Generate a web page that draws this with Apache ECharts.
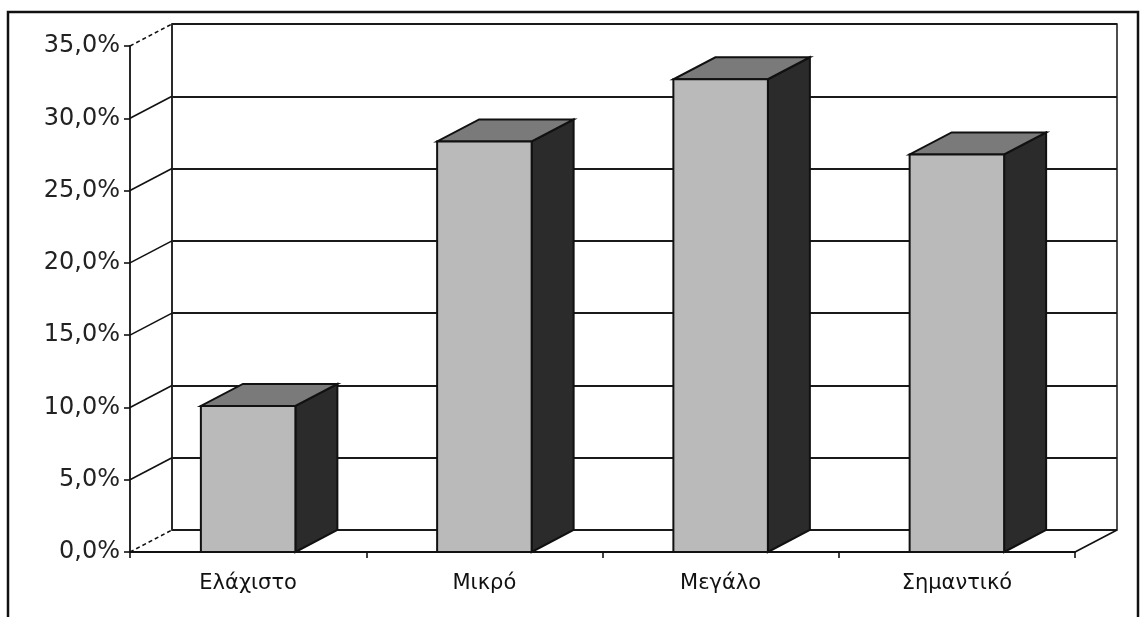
<!DOCTYPE html>
<html style="height: 100%">
<head>
<meta charset="utf-8">
<script src="https://cdn.jsdelivr.net/npm/echarts@6/dist/echarts.min.js"></script>
</head>
<body style="height: 100%; margin: 0; background: #fff">
<div id="container" style="width: 1147px; height: 617px"></div>
<script>
// data
var categories = ['Ελάχιστο', 'Μικρό', 'Μεγάλο', 'Σημαντικό'];
var shares = [10.1, 28.4, 32.7, 27.5];
var tickValues = [0, 5, 10, 15, 20, 25, 30, 35];

// 3d depth of the box (pixels)
var DX = 42, DY = 22;

function pct(v) {
    return v.toFixed(1).replace('.', ',') + '%';
}

var dom = document.getElementById('container');
var myChart = echarts.init(dom);

var option = {
    animation: false,
    backgroundColor: '#fff',
    textStyle: { fontFamily: 'DejaVu Sans, Arial, sans-serif' },
    graphic: [{
        type: 'rect',
        shape: { x: 8, y: 12, width: 1130, height: 640 },
        style: { fill: 'none', stroke: '#111', lineWidth: 2.5 },
        z: 0
    }],
    grid: [
        // back wall
        { left: 172, right: 30, top: 24, bottom: 87, show: true,
          backgroundColor: '#fff', borderColor: '#222', borderWidth: 1.6 },
        // front plane
        { left: 130, right: 72, top: 46, bottom: 65 }
    ],
    xAxis: [
        { gridIndex: 0, type: 'category', data: categories, show: false },
        { gridIndex: 1, type: 'category', data: categories,
          axisLine: { lineStyle: { color: '#111', width: 1.8 } },
          axisTick: { show: true, length: 6, lineStyle: { color: '#111', width: 1.6 } },
          axisLabel: { color: '#111', fontSize: 21, margin: 21,
                       fontFamily: 'DejaVu Sans' },
          splitLine: { show: false } }
    ],
    yAxis: [
        { gridIndex: 0, type: 'value', min: 0, max: 35, interval: 5,
          axisLine: { show: true, lineStyle: { color: '#222', width: 1.6 } },
          axisTick: { show: false }, axisLabel: { show: false },
          splitLine: { show: true, lineStyle: { color: '#1a1a1a', width: 1.8 } } },
        { gridIndex: 1, type: 'value', min: 0, max: 35, interval: 5,
          axisLine: { show: true, lineStyle: { color: '#111', width: 1.8 } },
          axisTick: { show: true, inside: false, length: 6, lineStyle: { color: '#111', width: 1.6 } },
          axisLabel: { color: '#222', fontSize: 24, margin: 10, formatter: pct,
                       fontFamily: 'DejaVu Sans' },
          splitLine: { show: false } }
    ],
    series: [
        // left side wall + right floor edge
        {
            type: 'custom',
            xAxisIndex: 1, yAxisIndex: 1,
            data: tickValues.map(function (v) { return [0, v]; }),
            silent: true,
            z: 3,
            renderItem: function (params, api) {
                var cs = params.coordSys;
                var v = api.value(1);
                var y = api.coord([0, v])[1];
                var children = [{
                    type: 'line',
                    shape: { x1: cs.x, y1: y, x2: cs.x + DX, y2: y - DY },
                    style: { stroke: '#111', lineWidth: 1.6,
                             lineDash: (v === 0 || v === 35) ? [4, 3] : null }
                }];
                if (v === 0) {
                    children.push({
                        type: 'line',
                        shape: { x1: cs.x + cs.width, y1: y, x2: cs.x + cs.width + DX, y2: y - DY },
                        style: { stroke: '#111', lineWidth: 1.6 }
                    });
                }
                return { type: 'group', children: children };
            }
        },
        // 3d columns
        {
            type: 'custom',
            xAxisIndex: 1, yAxisIndex: 1,
            data: shares.map(function (v, i) { return [i, v]; }),
            z: 5,
            renderItem: function (params, api) {
                var top = api.coord([api.value(0), api.value(1)]);
                var base = api.coord([api.value(0), 0]);
                var bw = api.size([1, 0])[0] * 0.4;
                var xl = top[0] - bw / 2, xr = top[0] + bw / 2;
                var yt = top[1], yb = base[1];
                var edge = { stroke: '#111', lineWidth: 2 };
                return {
                    type: 'group',
                    children: [
                        { type: 'polygon',
                          shape: { points: [[xr, yt], [xr + DX, yt - DY], [xr + DX, yb - DY], [xr, yb]] },
                          style: Object.assign({ fill: '#2b2b2b' }, edge) },
                        { type: 'polygon',
                          shape: { points: [[xl, yt], [xr, yt], [xr + DX, yt - DY], [xl + DX, yt - DY]] },
                          style: Object.assign({ fill: '#7a7a7a' }, edge) },
                        { type: 'rect',
                          shape: { x: xl, y: yt, width: bw, height: yb - yt },
                          style: Object.assign({ fill: '#bababa' }, edge) }
                    ]
                };
            }
        }
    ]
};

myChart.setOption(option);
</script>
</body>
</html>
